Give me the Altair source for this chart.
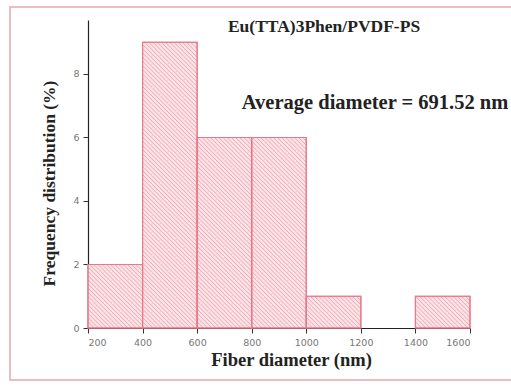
import altair as alt
import pandas as pd

# ---- data ----
bin_start = [200, 400, 600, 800, 1000, 1400]
bin_end = [400, 600, 800, 1000, 1200, 1600]
freq = [2, 9, 6, 6, 1, 1]

title_text = "Eu(TTA)3Phen/PVDF-PS"
avg_text = "Average diameter = 691.52 nm"

X_DOMAIN = [200, 1600]
Y_DOMAIN = [0, 9.7]
W, H = 382, 308
KX = W / (X_DOMAIN[1] - X_DOMAIN[0])   # px per x unit
KY = H / (Y_DOMAIN[1] - Y_DOMAIN[0])   # px per y unit
SP = 4.2                                # hatch spacing (px)

df = pd.DataFrame({"start": bin_start, "end": bin_end, "freq": freq})

xs = alt.Scale(domain=X_DOMAIN, nice=False, zero=False)
ys = alt.Scale(domain=Y_DOMAIN, nice=False)

serif = "Liberation Serif"

x_axis = alt.Axis(
    values=list(range(200, 1601, 100)),
    labelExpr="datum.value % 200 === 0 ? datum.label : ''",
    format="d",
    tickSize={"condition": {"test": "datum.value % 200 === 0", "value": 5}, "value": 3},
    tickColor="#333", domainColor="#222", domainWidth=1.2,
    labelFont="DejaVu Sans", labelFontSize=9.5, labelColor="#777",
    labelPadding=4, grid=False,
    title="Fiber diameter (nm)", titleFont=serif, titleFontSize=18.5,
    titleFontWeight="bold", titleColor="#222", titlePadding=4, titleX=203,
)
y_axis = alt.Axis(
    values=list(range(0, 10)),
    labelExpr="datum.value % 2 === 0 ? datum.label : ''",
    tickSize={"condition": {"test": "datum.value % 2 === 0", "value": 5}, "value": 3},
    tickColor="#333", domainColor="#222", domainWidth=1.2,
    labelFont="DejaVu Sans", labelFontSize=9.5, labelColor="#777",
    labelPadding=4, grid=False,
    title="Frequency distribution (%)", titleFont=serif, titleFontSize=17.5,
    titleFontWeight="bold", titleColor="#222", titlePadding=14, titleY=163,
)

base = alt.Chart(df)

bars = base.mark_rect(fill="#fbe4e7", stroke="#e8798a", strokeWidth=1.1).encode(
    x=alt.X("start:Q", scale=xs, axis=x_axis),
    x2="end:Q",
    y=alt.Y("freq:Q", scale=ys, axis=y_axis),
    y2=alt.datum(0),
)

hatch = (
    base.transform_calculate(
        wpx=f"(datum.end - datum.start) * {KX}",
        hpx=f"datum.freq * {KY}",
    )
    .transform_calculate(c=f"sequence({SP/2}, datum.wpx + datum.hpx, {SP})")
    .transform_flatten(["c"])
    .transform_calculate(
        hx="datum.start + max(0, datum.c - datum.hpx) / %f" % KX,
        hy="min(datum.c, datum.hpx) / %f" % KY,
        hx2="datum.start + min(datum.c, datum.wpx) / %f" % KX,
        hy2="max(0, datum.c - datum.wpx) / %f" % KY,
    )
    .mark_rule(color="#e0566c", strokeWidth=0.6, opacity=0.75)
    .encode(
        x=alt.X("hx:Q", scale=xs),
        y=alt.Y("hy:Q", scale=ys),
        x2="hx2:Q",
        y2="hy2:Q",
    )
)

outline = base.mark_rect(fill=None, stroke="#e8798a", strokeWidth=1.1).encode(
    x=alt.X("start:Q", scale=xs), x2="end:Q",
    y=alt.Y("freq:Q", scale=ys), y2=alt.datum(0),
)

txt_df = pd.DataFrame({
    "label": [title_text, avg_text],
    "x": [1065, 1252],
    "y": [9.48, 7.09],
    "size": [17.5, 20.5],
})
texts = alt.Chart(txt_df).mark_text(
    font=serif, fontWeight="bold", color="#222", align="center", baseline="middle"
).encode(
    x=alt.X("x:Q", scale=xs),
    y=alt.Y("y:Q", scale=ys),
    text="label:N",
    size=alt.Size("size:Q", scale=None, legend=None),
)

frame = alt.Chart(pd.DataFrame({"a": [0]})).mark_rect(
    fill=None, stroke="#ecbcc3", strokeWidth=2
).encode(
    x=alt.value(-78), x2=alt.value(440), y=alt.value(-13), y2=alt.value(360)
)

chart = (
    alt.layer(frame, bars, hatch, outline, texts)
    .properties(width=W, height=H, autosize="none",
                padding={"left": 88, "top": 20, "right": 41, "bottom": 62},
                background="white")
    .configure_view(stroke=None)
)

chart.save("out.html", embed_options={"renderer": "svg", "actions": False})
